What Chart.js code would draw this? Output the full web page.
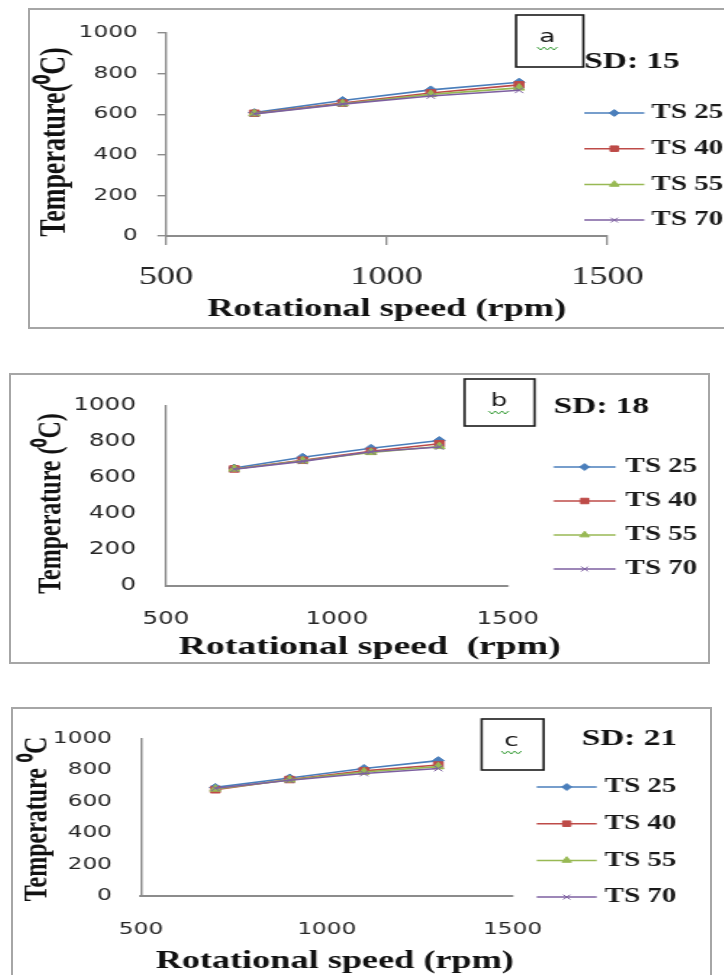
<!DOCTYPE html>
<html>
<head>
<meta charset="utf-8">
<script src="https://cdn.jsdelivr.net/npm/chart.js"></script>
<style>
  html, body { margin: 0; padding: 0; background: #fff; width: 724px; height: 975px; overflow: hidden; }
  .panel { position: absolute; border: 2px solid #a6a6a6; box-sizing: border-box; background: #fff; }
  .panel canvas { position: absolute; left: 0; top: 0; }
</style>
</head>
<body>
<div class="panel" style="left:28px;top:8px;width:720px;height:321px;">
  <canvas id="chartA" width="479" height="317" style="width:695px;height:317px"></canvas>
</div>
<div class="panel" style="left:9px;top:373px;width:701px;height:291px;">
  <canvas id="chartB" width="481" height="287" style="width:697px;height:287px"></canvas>
</div>
<div class="panel" style="left:11px;top:707px;width:701px;height:280px;">
  <canvas id="chartC" width="481" height="266" style="width:697px;height:266px"></canvas>
</div>

<script>
// data
const speedRpm = [700, 900, 1100, 1300];
const seriesLabels = ['TS 25', 'TS 40', 'TS 55', 'TS 70'];
const xTickValues = [500, 1000, 1500];
const yTickValues = [0, 200, 400, 600, 800, 1000];

// SD 15
const sd15_ts25 = [608, 668, 720, 758];
const sd15_ts40 = [605, 655, 705, 745];
const sd15_ts55 = [603, 652, 698, 730];
const sd15_ts70 = [602, 650, 690, 718];
// SD 18
const sd18_ts25 = [655, 715, 765, 808];
const sd18_ts40 = [650, 698, 748, 790];
const sd18_ts55 = [650, 695, 742, 775];
const sd18_ts70 = [648, 692, 745, 772];
// SD 21
const sd21_ts25 = [690, 750, 810, 860];
const sd21_ts40 = [675, 740, 795, 832];
const sd21_ts55 = [680, 738, 788, 822];
const sd21_ts70 = [685, 735, 778, 810];

// styles (Excel 2007 defaults)
const seriesColors = ['#4A7EBB', '#BE4B48', '#98B954', '#7D5FA0'];
const seriesMarkers = ['rectRot', 'rect', 'triangle', 'crossRot'];
const markerRadius = [4, 4.6, 4.4, 4];

const SERIF = "'Liberation Serif', 'Times New Roman', serif";
const SANS = "'DejaVu Sans', Verdana, sans-serif";
const AXIS_GRAY = '#8c8c8c';

// text, label box and legend drawn on top of each panel
function panelDecor(p) {
  return {
    id: 'panelDecor',
    afterDraw(chart) {
      const ctx = chart.ctx;
      ctx.save();
      ctx.fillStyle = '#111';

      // y axis title
      ctx.save();
      ctx.translate(p.yTitle.x, p.yTitle.y);
      ctx.rotate(-Math.PI / 2);
      ctx.font = `bold ${p.yTitle.size}px ${SERIF}`;
      ctx.textAlign = 'center';
      ctx.textBaseline = 'middle';
      ctx.fillText(p.yTitle.text, 0, 0);
      ctx.restore();

      // x axis title
      ctx.font = `bold ${p.xTitle.size}px ${SERIF}`;
      ctx.textAlign = 'center';
      ctx.textBaseline = 'middle';
      ctx.fillText(p.xTitle.text, p.xTitle.x, p.xTitle.y);

      // panel letter box
      const b = p.box;
      ctx.strokeStyle = '#1a1a1a';
      ctx.lineWidth = 1.6;
      ctx.strokeRect(b.x, b.y, b.w, b.h);
      ctx.font = `18px ${SANS}`;
      ctx.fillText(b.letter, b.lx, b.ly);
      ctx.strokeStyle = '#3f9f3f';
      ctx.lineWidth = 1;
      ctx.beginPath();
      for (let k = 0; k <= 6; k++) {
        const sx = b.lx - 7 + k * 2.3;
        const sy = b.ly + 11 + (k % 2 ? 2 : -1);
        if (k === 0) ctx.moveTo(sx, sy); else ctx.lineTo(sx, sy);
      }
      ctx.stroke();

      // SD label
      ctx.font = `bold 23px ${SERIF}`;
      ctx.textAlign = 'left';
      ctx.fillText(p.sd.text, p.sd.x, p.sd.y);

      // legend: line with marker
      const lg = p.legend;
      chart.data.datasets.forEach((ds, i) => {
        const y = lg.y0 + i * lg.dy;
        ctx.strokeStyle = ds.borderColor;
        ctx.fillStyle = ds.borderColor;
        ctx.lineWidth = 1.5;
        ctx.beginPath();
        ctx.moveTo(lg.x1, y);
        ctx.lineTo(lg.x2, y);
        ctx.stroke();
        ctx.lineWidth = 1;
        Chart.helpers.drawPoint(ctx, {
          pointStyle: ds.pointStyle, radius: ds.pointRadius * 0.85, rotation: 0, borderWidth: 1
        }, (lg.x1 + lg.x2) / 2, y);
        ctx.fillStyle = '#1a1a1a';
        ctx.font = `bold 20px ${SERIF}`;
        ctx.textAlign = 'left';
        ctx.textBaseline = 'middle';
        ctx.fillText(ds.label, lg.tx, y);
      });
      ctx.restore();
    }
  };
}

function makePanel(p) {
  const datasets = p.series.map((vals, i) => ({
    label: seriesLabels[i],
    data: speedRpm.map((x, j) => ({ x: x, y: vals[j] })),
    borderColor: seriesColors[i],
    backgroundColor: seriesColors[i],
    borderWidth: 1.6,
    pointStyle: seriesMarkers[i],
    pointRadius: markerRadius[i],
    pointBackgroundColor: seriesColors[i],
    pointBorderColor: seriesColors[i],
    pointBorderWidth: 1,
    tension: 0,
    order: 3 - i
  }));

  new Chart(document.getElementById(p.canvas), {
    type: 'line',
    data: { datasets },
    options: {
      responsive: false,
      animation: false,
      events: [],
      layout: { padding: { top: p.area.top, right: p.W - p.area.right, bottom: 0, left: 0 } },
      plugins: { legend: { display: false }, tooltip: { enabled: false } },
      scales: {
        x: {
          type: 'linear', min: 500, max: 1500,
          afterBuildTicks: s => { s.ticks = xTickValues.map(v => ({ value: v })); },
          afterFit: s => { s.height = p.H - p.area.bottom; },
          grid: { display: p.showTicks, drawOnChartArea: false, drawTicks: p.showTicks,
                  tickLength: 9, color: AXIS_GRAY, lineWidth: 1.3 },
          border: { display: true, color: AXIS_GRAY, width: 2 },
          ticks: { font: p.xFont, color: '#262626', padding: p.xPad, maxRotation: 0,
                   autoSkip: false, callback: v => String(v) }
        },
        y: {
          min: 0, max: 1000,
          afterBuildTicks: s => { s.ticks = yTickValues.map(v => ({ value: v })); },
          afterFit: s => { s.width = p.area.left; },
          grid: { display: p.showTicks, drawOnChartArea: false, drawTicks: p.showTicks,
                  tickLength: 6, color: AXIS_GRAY, lineWidth: 1.4 },
          border: { display: true, color: AXIS_GRAY, width: 1.4 },
          ticks: { font: p.yFont, color: '#262626', padding: p.yPad, callback: v => String(v) }
        }
      }
    },
    plugins: [panelDecor(p)]
  });
}

makePanel({
  canvas: 'chartA', W: 479, H: 317,
  area: { left: 93.8, right: 397.9, top: 21, bottom: 226 },
  series: [sd15_ts25, sd15_ts40, sd15_ts55, sd15_ts70],
  showTicks: true,
  xFont: { family: SERIF, size: 25 }, xPad: 17,
  yFont: { family: SANS, size: 16 }, yPad: 13.5,
  yTitle: { text: 'Temperature(\u2070C)', x: 17.2, y: 132, size: 26 },
  xTitle: { text: 'Rotational speed (rpm)', x: 245.9, y: 300, size: 25 },
  box: { x: 335, y: 5, w: 46.4, h: 52, letter: 'a', lx: 356.6, ly: 27 },
  sd: { text: 'SD: 15', x: 382, y: 52 },
  legend: { x1: 382, x2: 423.4, tx: 428.3, y0: 103, dy: 35.7 }
});

makePanel({
  canvas: 'chartB', W: 481, H: 287,
  area: { left: 106.9, right: 342.8, top: 19, bottom: 211 },
  series: [sd18_ts25, sd18_ts40, sd18_ts55, sd18_ts70],
  showTicks: false,
  xFont: { family: SANS, size: 17 }, xPad: 23,
  yFont: { family: SANS, size: 17 }, yPad: 20.7,
  yTitle: { text: 'Temperature (\u2070C)', x: 27.6, y: 128.5, size: 24 },
  xTitle: { text: 'Rotational speed  (rpm)', x: 247.6, y: 272, size: 26 },
  box: { x: 313, y: 4, w: 48.4, h: 47, letter: 'b', lx: 336.6, ly: 26 },
  sd: { text: 'SD: 18', x: 374.5, y: 32 },
  legend: { x1: 374.5, x2: 417.2, tx: 424.1, y0: 92, dy: 34 }
});

makePanel({
  canvas: 'chartC', W: 481, H: 266,
  area: { left: 88.3, right: 344.8, top: 22, bottom: 187 },
  series: [sd21_ts25, sd21_ts40, sd21_ts55, sd21_ts70],
  showTicks: false,
  xFont: { family: SANS, size: 16 }, xPad: 24,
  yFont: { family: SANS, size: 16 }, yPad: 20,
  yTitle: { text: 'Temperature \u2070C', x: 16.6, y: 110, size: 24 },
  xTitle: { text: 'Rotational speed (rpm)', x: 222, y: 253, size: 25 },
  box: { x: 323.4, y: 10, w: 42.8, h: 51, letter: 'c', lx: 344, ly: 32 },
  sd: { text: 'SD: 21', x: 392.4, y: 30 },
  legend: { x1: 361.4, x2: 402.8, tx: 408.3, y0: 78, dy: 36.7 }
});
</script>
</body>
</html>
